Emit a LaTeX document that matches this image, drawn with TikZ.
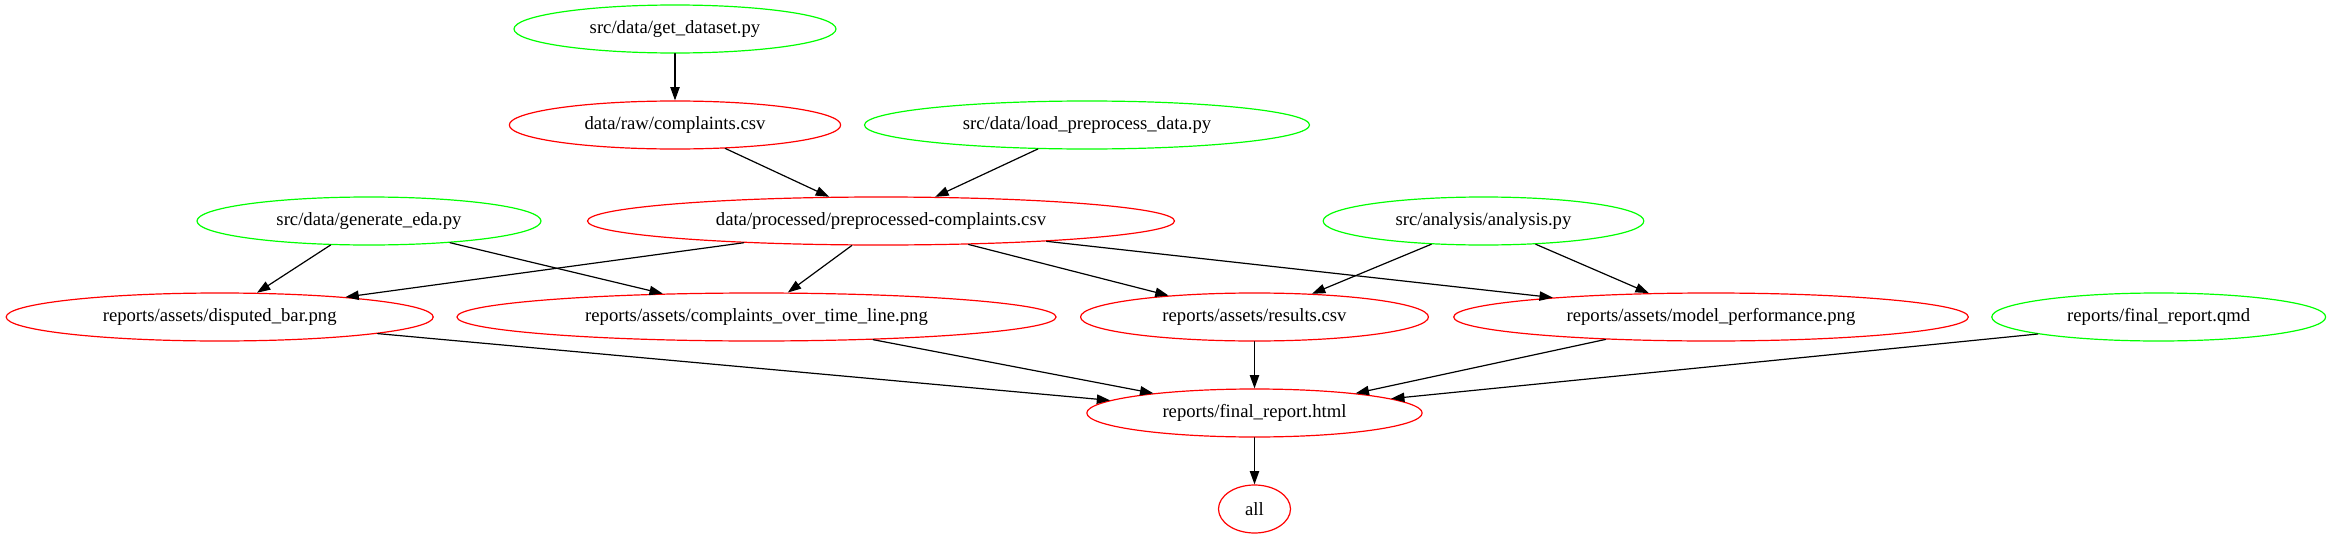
\documentclass[tikz,border=0pt]{standalone}
\usepackage{fontspec}
\setmainfont{Liberation Serif}
\usetikzlibrary{arrows.meta,shapes.geometric}
\definecolor{gvgreen}{RGB}{0,255,0}
\definecolor{gvred}{RGB}{255,0,0}
\tikzset{
  >={Triangle[length=10pt,width=7pt]},
  every picture/.style={line cap=round,line join=round},
  file/.style={ellipse, draw, line width=0.9pt, inner xsep=-12pt, inner ysep=0pt,
    minimum height=36pt, font=\fontsize{14pt}{16pt}\selectfont},
  script/.style={file, draw=gvgreen},
  target/.style={file, draw=gvred},
  dep/.style={->, line width=0.9pt},
}

\begin{document}
\begin{tikzpicture}[x=0.75pt,y=-0.75pt]
  \useasboundingbox (0,0) rectangle (2332,539);
  % rank 1 and 2
  \node[script, minimum width=241.5pt] (getdata) at (675,29) {src/data/get\_dataset.py};
  \node[target, minimum width=248.5pt] (raw) at (675,125) {data/raw/complaints.csv};
  \node[script, minimum width=333.8pt] (load) at (1087,125) {src/data/load\_preprocess\_data.py};
  % rank 3
  \node[script, minimum width=258pt] (eda) at (369,221) {src/data/generate\_eda.py};
  \node[target, minimum width=440.3pt] (prep) at (881,221) {data/processed/preprocessed-complaints.csv};
  \node[script, minimum width=240.5pt] (ana) at (1483.5,221) {src/analysis/analysis.py};
  % rank 4
  \node[target, minimum width=320.3pt] (disp) at (219.7,317) {reports/assets/disputed\_bar.png};
  \node[target, minimum width=449.4pt] (cot) at (756.5,317) {reports/assets/complaints\_over\_time\_line.png};
  \node[target, minimum width=260.9pt] (res) at (1254.5,317) {reports/assets/results.csv};
  \node[target, minimum width=386pt] (mod) at (1711,317) {reports/assets/model\_performance.png};
  \node[script, minimum width=250.4pt] (qmd) at (2158.7,317) {reports/final\_report.qmd};
  % rank 5 and 6
  \node[target, minimum width=251.5pt] (html) at (1254.5,413) {reports/final\_report.html};
  \node[target, minimum width=54pt] (all) at (1254.5,509) {all};

  % dependencies
  \draw[dep] (getdata.south) -- (raw.north);
  \draw[dep] (raw.335) -- (prep.155);
  \draw[dep] (load.206) -- (prep.24);
  \draw[dep] (eda.212) -- (disp.33);
  \draw[dep] (eda.345) -- (cot.166);
  \draw[dep] (prep.189) -- (disp.9);
  \draw[dep] (prep.220) -- (cot.38);
  \draw[dep] (prep.345) -- (res.166);
  \draw[dep] (prep.353) -- (mod.173);
  \draw[dep] (ana.204) -- (res.22);
  \draw[dep] (ana.336) -- (mod.159);
  \draw[dep] (disp.354) -- (html.175);
  \draw[dep] (cot.349) -- (html.169);
  \draw[dep] (res.south) -- (html.north);
  \draw[dep] (mod.192) -- (html.11);
  \draw[dep] (qmd.188) -- (html.6);
  \draw[dep] (html.south) -- (all.north);
\end{tikzpicture}
\end{document}
